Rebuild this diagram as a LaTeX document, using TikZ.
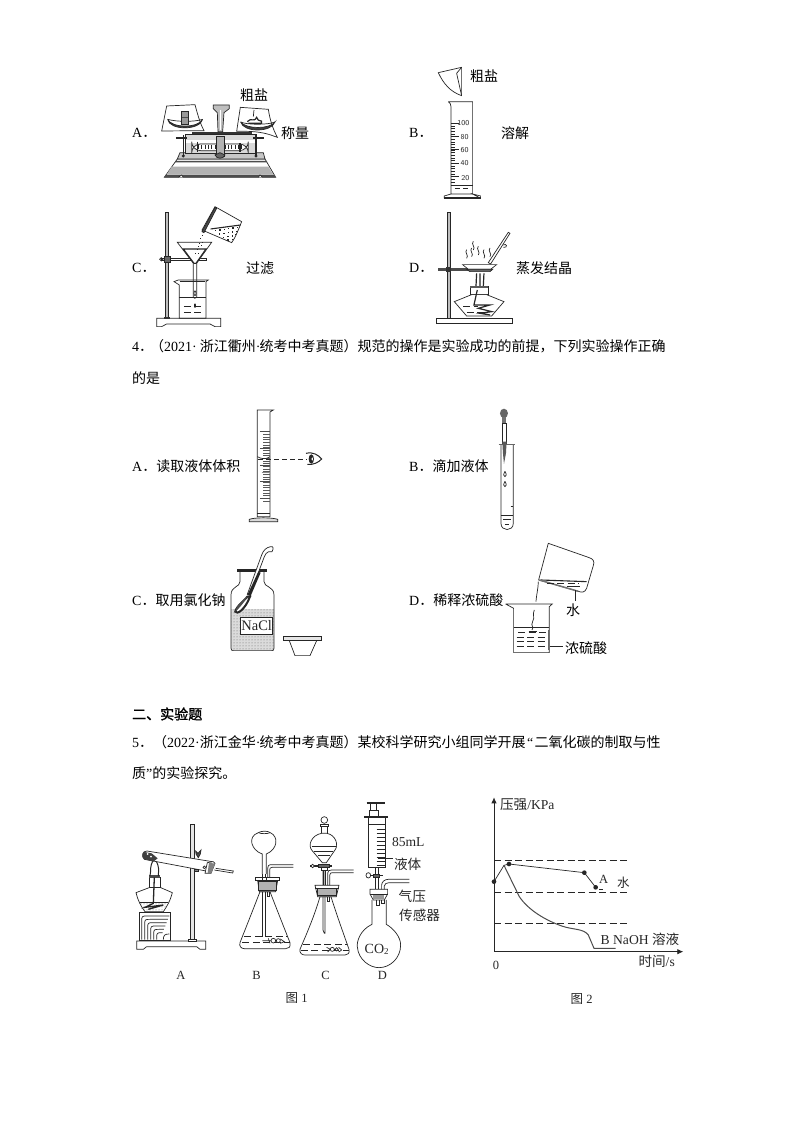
\documentclass[tikz,border=0pt]{standalone}
\usepackage{fontspec}
\setmainfont{Liberation Serif}
\newfontfamily\cjk{Noto Sans CJK SC}
\usetikzlibrary{patterns,arrows.meta}
\newcommand{\C}[1]{{\cjk #1}}
\newcommand{\vap}[2]{\draw (#1,#2) .. controls +(8,-8) and +(-8,8) .. +(0,-26);}
\newcommand{\dashrow}[3]{\draw[dash pattern=on 7pt off 3.5pt] (#1,#3) -- (#2,#3);}
\tikzset{
  tx/.style={anchor=west,inner sep=0pt,font=\fontsize{14}{14}\selectfont},
  txc/.style={anchor=center,inner sep=0pt,font=\fontsize{14}{14}\selectfont},
  small/.style={anchor=center,inner sep=0pt,font=\fontsize{12.5}{13}\selectfont},
  lbl/.style={anchor=center,inner sep=0pt,font=\fontsize{13.6}{14}\selectfont},
  tiny/.style={anchor=center,inner sep=0pt,font=\sffamily\fontsize{7.5}{8}\selectfont},
  zoomA/.style={shift={(120pt,-60pt)},x=0.3333pt,y=-0.3333pt,line width=0.7pt,black!85},
  zoomB/.style={shift={(120pt,-400pt)},x=0.3333pt,y=-0.3333pt,line width=0.7pt,black!85},
  zoomC/.style={shift={(125pt,-790pt)},x=0.3333pt,y=-0.3333pt,line width=0.7pt,black!85},
  zoomD/.style={shift={(470pt,-790pt)},x=0.3333pt,y=-0.3333pt,line width=0.7pt,black!85},
  stip/.style={pattern=dots,pattern color=black!60}
}
\begin{document}
\begin{tikzpicture}[x=1pt,y=-1pt]
\useasboundingbox (0,0) rectangle (794,1123);
\fill[white] (0,0) rectangle (794,1123);
% ---------- Texts
\node[tx] (ta1) at (132,133) {A\C{．}};
\node[txc] (ta2) at (254,95) {\C{粗盐}};
\node[tx] (ta3) at (281,133) {\C{称量}};
\node[tx] (tb1) at (409,133) {B\C{．}};
\node[tx] (tb2) at (470,76) {\C{粗盐}};
\node[tx] (tb3) at (501,133) {\C{溶解}};
\node[tx] (tc1) at (132,268) {C\C{．}};
\node[tx] (tc2) at (246,268) {\C{过滤}};
\node[tx] (td1) at (409,268) {D\C{．}};
\node[tx] (td2) at (516,268) {\C{蒸发结晶}};
\node[tx] (l1) at (132,346) {4\C{．}\hspace{-3pt}\C{（}2021·\hspace{3pt}\C{浙江衢州}·\hspace{-1pt}\C{统考中考真题）规范的操作是实验成功的前提，下列实验操作正确}};
\node[tx] (l2) at (132,378) {\C{的是}};
\node[tx] (oa) at (132,466) {A\C{．读取液体体积}};
\node[tx] (ob) at (409,466) {B\C{．滴加液体}};
\node[tx] (oc) at (132,600) {C\C{．取用氯化钠}};
\node[tx] (od) at (409,600) {D\C{．稀释浓硫酸}};
\node[tx] (h2) at (132,714) {\C{\addfontfeature{FakeBold=1.5}二、实验题}};
\node[tx] (l3) at (132,742) {5\C{．}\C{（}2022·\hspace{0pt}\C{浙江金华}·\hspace{-1pt}\C{统考中考真题）某校科学研究小组同学开展}\hspace{1.5pt}“\hspace{1.5pt}\C{二氧化碳的制取与性}};
\node[tx] (l4) at (132,773) {\C{质}”\C{的实验探究。}};
\node[txc] (w1) at (573,610) {\C{水}};
\node[txc] (w2) at (586,648) {\C{浓硫酸}};
% ---------- Top panels
\begin{scope}[zoomA]
 % balance base
 \draw[fill=white] (133,352) -- (172,297) -- (435,297) -- (467,352) -- cycle;
 \fill[black!30] (155,320) -- (445,320) -- (460,344) -- (140,344) -- cycle;
 \fill[black!70] (136,345) -- (464,345) -- (467,352) -- (133,352) -- cycle;
 \fill[black!70] (168,303) -- (440,303) -- (442,307) -- (165,307) -- cycle;
 \draw[fill=white] (175,352) -- (185,345) -- (190,352) (415,352) -- (420,345) -- (428,352);
 \draw[fill=black!22] (180,278) -- (430,278) -- (435,297) -- (172,297) -- cycle;
 \draw[fill=black!15] (197,222) rectangle (410,280);
 \fill[white] (198,241) rectangle (409,250);
 \draw[fill=white,rounded corners=9pt] (215,252) rectangle (385,272);
 \foreach \i in {235,245,...,365} \draw (\i,255) -- (\i,266);
 \draw[line width=1.1pt] (232,245) -- (232,275) (360,250) -- (360,275);
 \draw[fill=black!30] (288,228) rectangle (312,290);
 \draw[fill=black!60] (285,285) .. controls (290,298) and (310,298) .. (315,285) -- (300,278) -- cycle;
 \draw[line width=1.3pt] (190,225) -- (190,288) (408,225) -- (408,288);
 \fill (190,288) circle (5) (408,288) circle (5);
 \draw[line width=1.1pt] (168,234) -- (200,234) (400,234) -- (432,234);
 \fill[black!80] (215,216) rectangle (395,222);
 % pointer column
 \draw[fill=black!25] (280,135) -- (328,135) -- (328,146) -- (312,158) -- (308,215) -- (294,215) -- (292,158) -- (280,146) -- cycle;
 \draw[white,line width=0.8pt] (301,150) -- (301,210);
 % left paper/pan
 \draw[fill=white] (140,138) -- (225,134) .. controls (232,160) and (240,190) .. (252,212) -- (125,213) -- cycle;
 \draw (143,178) .. controls (170,186) and (225,186) .. (248,178);
 \draw[fill=black!75] (143,178) .. controls (148,212) and (240,212) .. (248,178) .. controls (235,205) and (155,205) .. (143,178);
 \draw[fill=black!40] (185,155) rectangle (204,192);
 \fill[black!70] (185,170) rectangle (204,174);
 % right paper/pan
 \draw[fill=white] (361,142) -- (445,148) .. controls (450,180) and (458,205) .. (472,232) .. controls (450,225) and (430,212) .. (350,214) -- cycle;
 \draw (362,186) .. controls (380,195) and (445,195) .. (465,186);
 \draw[fill=black!75] (362,186) .. controls (370,218) and (455,218) .. (465,186) .. controls (450,208) and (378,208) .. (362,186);
 \draw[line width=1.2pt] (382,185) .. controls (395,170) and (400,190) .. (410,172) .. controls (415,190) and (428,175) .. (425,190) -- (385,190);
 \draw (402,150) -- (400,170);
 % B paper and cylinder
 \draw[fill=white] (955,38) -- (1025,22) -- (1025,107) .. controls (990,95) and (970,70) .. cycle;
 \draw (1025,22) -- (1010,40) -- (1025,107);
 \draw (985,125) -- (1058,125) -- (1058,402) -- (993,402) -- (993,140) .. controls (993,132) and (990,128) .. (985,125);
 \draw (973,415) -- (973,408) -- (993,402) (1058,402) -- (1082,408) -- (1082,415) -- cycle;
 \draw[fill=black!60] (973,411) rectangle (1082,415);
 \draw (993,375) -- (1058,375);
 \draw (1005,384) -- (1020,384) (1030,384) -- (1045,384);
 \foreach \i in {190,198,...,366} \draw (993,\i) -- (1006,\i);
 \foreach \i in {190,230,270,310,350} \draw[line width=1pt] (993,\i) -- (1018,\i);
 \node[tiny] (n100) at (1030,190) {100};
 \node[tiny] (n80) at (1034,230) {80};
 \node[tiny] (n60) at (1034,270) {60};
 \node[tiny] (n40) at (1034,310) {40};
 \node[tiny] (n20) at (1036,355) {20};
 % C stand and filter
 \draw[fill=white] (110,800) -- (110,775) -- (302,775) -- (302,800) -- (285,800) -- (270,792) -- (140,792) -- (125,800) -- cycle;
 \draw[fill=black!25] (137,458) rectangle (146,775);
 \fill[black!80] (132,770) rectangle (150,776);
 \draw[fill=white] (125,594) -- (258,594) -- (258,602) -- (125,602) -- cycle;
 \draw (124,598) circle (5);
 \draw[fill=black!60] (132,590) rectangle (152,606);
 \draw[fill=white] (172,547) -- (275,547) -- (230,610) -- (230,712) .. controls (226,716) and (222,716) .. (220,712) -- (220,610) -- cycle;
 \draw[line width=1.1pt] (190,567) -- (258,567) -- (228,610) -- (222,610) -- cycle;
 \draw (175,660) -- (265,660) -- (258,665) -- (258,775) -- (178,775) -- (178,675) -- (162,665) -- (175,660);
 \draw[line width=1.4pt] (180,664) -- (255,664);
 \draw (178,712) -- (258,712);
 \dashrow{192}{245}{740}
 \dashrow{192}{245}{758}
 \fill (225,737) ellipse (3 and 7);
 \draw (225,700) ellipse (3 and 7);
 % pouring beaker
 \draw[fill=white] (285,440) -- (365,485) .. controls (355,510) and (345,535) .. (335,548) -- (246,510) -- cycle;
 \draw[line width=1.1pt] (272,507) -- (362,495);
 \foreach \p/\q in {285/510,298/508,311/506,324/504,337/502,350/500,297/520,310/518,323/516,336/514,349/512,309/530,322/528,335/526,345/522,322/538,335/536}
   \fill (\p,\q) rectangle +(4,4);
 \draw[fill=black!70] (285,442) -- (290,445) -- (252,518) -- (246,515) -- cycle;
 \foreach \p/\q in {245/525,240/535,238/548,235/558,230/568,242/556,233/578,225/580,245/545}
   \fill (\p,\q) rectangle +(3,3);
 % D stand
 \draw[fill=white] (950,790) rectangle (1178,775);
 \draw[fill=black!25] (983,458) rectangle (990,775);
 \fill[black!70] (955,624) rectangle (1045,632);
 \fill[black!80] (978,620) rectangle (992,637);
 % vapours
 \vap{1040}{595}\vap{1055}{590}\vap{1075}{585}\vap{1092}{595}\vap{1060}{570}\vap{1110}{590}
 % dish
 \draw[fill=white] (1028,614) -- (1130,614) -- (1112,628) -- (1045,628) -- cycle;
 \draw[fill=black!60] (1040,628) -- (1118,628) -- (1110,635) -- (1050,635) -- cycle;
 % glass rod
 \draw[fill=white] (1105,608) -- (1165,517) -- (1170,520) -- (1112,612) -- cycle;
 \draw (1150,555) .. controls (1160,548) and (1165,565) .. (1150,562);
 % tripod and wick
 \draw[line width=1.2pt] (1070,640) -- (1068,680) (1080,640) -- (1080,680) (1092,640) -- (1090,680);
 % lamp
 \draw[fill=white] (1050,678) rectangle (1105,704);
 \fill[black!65] (1050,678) rectangle (1105,684);
 \draw[fill=white] (1003,725) -- (1055,704) -- (1100,704) -- (1152,725) -- (1115,768) -- (1040,768) -- cycle;
 \dashrow{1030}{1075}{740}
 \dashrow{1040}{1100}{758}
 \draw[line width=1.2pt] (1072,690) -- (1062,735) -- (1110,735) -- (1075,745) -- (1115,755) -- (1080,760) -- (1110,765);
\end{scope}
% ---------- Middle panels
\begin{scope}[zoomB]
 % cylinder
 \draw (412,30) -- (460,30) -- (450,36) -- (450,350) -- (412,350) -- cycle;
 \draw[fill=black!15] (388,358) .. controls (405,352) and (455,352) .. (473,358) -- (473,365) -- (388,365) -- cycle;
 \draw (412,340) -- (450,340);
 \foreach \i in {95,103,...,305} \draw[black!65] (430,\i) -- (450,\i);
 \foreach \i in {95,145,195,245,295} \draw[black!70] (420,\i) -- (450,\i);
 \draw[line width=1.4pt,black!45] (425,218) -- (450,218);
 \draw (412,170) .. controls (425,178) and (440,178) .. (450,170);
 \draw[dash pattern=on 5pt off 3pt] (415,178) -- (560,178);
 % eye
 \draw[line width=1pt] (558,160) .. controls (580,155) and (595,165) .. (605,177) .. controls (595,188) and (580,195) .. (562,193);
 \fill (574,177) ellipse (8 and 14);
 \fill[white] (577,177) ellipse (2.5 and 5);
 % dropper & test tube
 \draw (1143,133) -- (1143,370) .. controls (1143,395) and (1180,395) .. (1180,370) -- (1180,133);
 \draw[line width=1.1pt,black!60] (1136,133) -- (1186,133);
 \draw (1143,345) -- (1180,345);
 \draw (1150,358) -- (1172,358) (1155,372) -- (1168,372);
 \draw (1172,320) -- (1180,320);
 \fill[black!60] (1152,40) ellipse (12 and 14);
 \fill[black!55] (1146,52) rectangle (1158,70);
 \draw[fill=white] (1147,70) rectangle (1160,130);
 \fill[black!65] (1147,125) -- (1160,125) -- (1158,160) -- (1152,192) -- (1149,160) -- cycle;
 \draw[fill=white] (1155,214) .. controls (1150,222) and (1150,230) .. (1155,230) .. controls (1160,230) and (1160,222) .. (1155,214);
 \draw[fill=white] (1155,244) .. controls (1150,252) and (1150,260) .. (1155,260) .. controls (1160,260) and (1160,252) .. (1155,244);
 % bottle
 \fill[black!14] (334,628) rectangle (462,750);
 \fill[stip] (334,628) rectangle (462,750);
 \draw[line width=2.5pt] (352,511) -- (440,511);
 \draw (360,514) -- (360,545) .. controls (360,562) and (333,558) .. (333,585) -- (333,745) .. controls (333,750) and (336,752) .. (340,752) -- (455,752) .. controls (460,752) and (462,750) .. (462,745) -- (462,585) .. controls (462,558) and (432,562) .. (432,545) -- (432,514);
 \draw[fill=white] (362,652) rectangle (458,703);
 \node[anchor=center,inner sep=0pt,font=\fontsize{14.5}{15}\selectfont] (nacl) at (410,678) {NaCl};
 % spoon
 \draw[fill=white] (452,440) .. controls (460,438) and (462,445) .. (456,455) -- (446,455) .. controls (440,458) and (436,462) .. (433,470) -- (390,585) -- (382,583) -- (425,465) .. controls (430,450) and (440,442) .. (452,440);
 \fill[black!85] (415,515) -- (422,518) -- (392,588) -- (382,585) -- cycle;
 \draw[line width=2pt,fill=white] (382,590) .. controls (375,600) and (348,620) .. (346,635) .. controls (350,645) and (375,630) .. (390,590) -- cycle;
 \fill[black!70] (382,590) .. controls (370,600) and (345,620) .. (346,635) .. controls (352,630) and (370,612) .. (382,590);
 % inverted lid
 \draw[fill=black!10] (490,708) rectangle (605,722);
 \draw (508,722) -- (525,767) -- (570,767) -- (590,722);
 % pouring beaker
 \draw[fill=white] (1285,430) -- (1405,472) .. controls (1420,476) and (1425,485) .. (1420,497) -- (1400,565) .. controls (1395,578) and (1385,578) .. (1375,574) -- (1256,540) -- cycle;
 \draw[line width=1.1pt] (1262,540) -- (1400,545);
 \draw[line width=1.5pt,black!55] (1258,540) -- (1375,574);
 \dashrow{1280}{1375}{550}
 \draw (1340,560) -- (1380,560);
 \draw (1255,545) .. controls (1255,565) and (1250,580) .. (1248,605);
 % water label line
 \draw (1365,570) -- (1365,602);
 % lower beaker
 \draw (1157,612) -- (1297,612) -- (1288,620) -- (1288,758) -- (1181,758) -- (1181,625) -- (1157,612);
 \draw (1181,683) -- (1288,683);
 \draw[line width=1.5pt,black!60] (1285,690) -- (1285,750);
 \dashrow{1195}{1280}{698}
 \dashrow{1190}{1280}{712}
 \dashrow{1190}{1280}{725}
 \dashrow{1190}{1280}{740}
 \draw (1243,630) .. controls (1236,645) and (1246,650) .. (1238,665) .. controls (1230,680) and (1245,678) .. (1236,690);
 \draw (1226,695) -- (1250,695);
 % acid line
 \draw (1290,738) -- (1330,738);
\end{scope}
% ---------- Figure 1
\begin{scope}[zoomC]
 % A
 \draw[fill=white] (35,478) -- (35,453) -- (242,453) -- (242,478) -- (225,478) -- (215,470) -- (65,470) -- (55,478) -- cycle;
 \draw[fill=black!10] (197,103) -- (207,103) -- (207,448) -- (197,448) -- cycle;
 \draw[fill=white] (190,447) rectangle (215,453);
 % wood block
 \draw[fill=white] (42,368) rectangle (135,450);
 \foreach \i in {0,1,2,3,4,5} {
   \pgfmathsetmacro{\xa}{50+9*\i}
   \pgfmathsetmacro{\ya}{378+10*\i}
   \draw (\xa,449) -- (\xa,\ya+18) .. controls (\xa,\ya) and (\xa,\ya) .. (\xa+18,\ya) -- (133-4*\i,\ya);
 }
 \draw (115,449) .. controls (115,435) and (120,432) .. (133,432);
 % lamp
 \draw[fill=white] (33,308) -- (75,292) -- (105,292) -- (142,308) .. controls (135,335) and (125,350) .. (115,365) -- (60,365) .. controls (48,350) and (38,330) .. cycle;
 \draw[fill=white] (72,262) rectangle (105,292);
 \fill[black!70] (72,255) rectangle (105,265);
 \fill[stip] (46,338) -- (128,338) -- (115,363) -- (60,363) -- cycle;
 \draw (46,338) -- (128,338);
 \draw[line width=1.3pt] (88,262) -- (85,340) -- (60,352) -- (115,345) -- (70,358);
 % flame
 \draw[line width=1pt] (75,258) .. controls (80,240) and (70,235) .. (88,205);
 \draw[line width=1pt] (100,258) .. controls (100,240) and (105,235) .. (92,210);
 % tube
 \draw[fill=white] (66,183) -- (262,215) -- (254,245) -- (58,208) .. controls (48,200) and (52,182) .. (66,183);
 \fill[black!75] (58,186) .. controls (48,192) and (52,205) .. (60,208) -- (85,215) -- (98,205) -- (80,190) -- cycle;
 \fill[white] (68,192) circle (3) (78,200) circle (3);
 \draw[fill=white] (247,218) -- (265,215) -- (270,220) -- (258,250) -- (240,250) -- cycle;
 \fill[black!50] (252,218) -- (270,221) -- (259,250) -- (248,248) -- cycle;
 \draw (272,235) -- (325,243) -- (323,249) -- (268,240);
 \draw[fill=white] (238,232) circle (4);
 % clamp wing
 \draw[fill=black!70] (212,183) -- (219,190) -- (228,180) -- (226,192) -- (220,203) -- (213,192) -- cycle;
 \draw[fill=black!50] (207,237) rectangle (220,244);
 % B bulb funnel
 \draw (400,128) .. controls (365,140) and (380,182) .. (412,192) -- (412,252) (424,252) -- (424,192) .. controls (458,178) and (462,140) .. (436,128) .. controls (425,132) and (410,132) .. (400,128);
 \draw (400,128) .. controls (410,122) and (428,122) .. (436,128);
 \draw (413,252) -- (413,442) (421,252) -- (421,442);
 \draw[fill=white] (345,458) .. controls (350,445) and (380,370) .. (405,305) -- (435,305) .. controls (460,370) and (490,445) .. (495,458) .. controls (498,472) and (490,476) .. (482,476) -- (358,476) .. controls (348,476) and (342,468) .. (345,458) -- cycle;
 \draw (413,300) -- (413,442) (421,300) -- (421,442);
 \dashrow{358}{490}{440}
 \dashrow{352}{495}{458}
 \draw[fill=white] (398,272) -- (458,272) -- (452,305) -- (403,305) -- cycle;
 \draw[fill=white] (392,262) rectangle (462,272);
 \draw (412,262) -- (412,272) (424,262) -- (424,272);
 \draw[fill=black!30] (400,275) rectangle (455,300);
 \draw (426,305) -- (426,318) -- (433,318) -- (433,305);
 \draw (428,262) -- (428,235) .. controls (428,228) and (430,224) .. (440,224) -- (505,224) (434,262) -- (434,240) .. controls (434,235) and (436,232) .. (442,232) -- (505,232);
 \draw[fill=white] (445,452) circle (7) (460,452) circle (6);
 \draw (412,452) -- (438,452) (430,445) -- (435,460);
 \draw (466,447) -- (478,455) -- (466,460);
 % C funnel
 \draw[fill=white] (598,90) circle (10);
 \draw[fill=white] (586,102) rectangle (610,108);
 \draw (590,108) -- (590,130) (606,108) -- (606,130);
 \draw[fill=white] (590,130) .. controls (560,135) and (548,165) .. (560,180) -- (592,218) -- (604,218) -- (630,180) .. controls (642,165) and (632,135) .. (606,130) -- cycle;
 \draw (560,170) -- (632,170);
 \draw (568,184) -- (625,184) (578,195) -- (615,195);
 \draw[fill=white] (590,222) rectangle (606,240);
 \draw[line width=1.2pt] (556,228) -- (622,228);
 \draw[fill=white] (563,228) circle (5);
 \draw[fill=black!60] (580,223) rectangle (612,233);
 \draw (594,240) -- (594,420) -- (598,430) -- (600,430) -- (600,240);
 \draw[fill=white] (525,478) .. controls (530,465) and (565,390) .. (585,320) -- (618,320) .. controls (640,390) and (668,465) .. (672,478) .. controls (675,490) and (668,495) .. (660,495) -- (540,495) .. controls (530,495) and (523,488) .. (525,478) -- cycle;
 \draw (594,320) -- (594,420) -- (598,430) -- (600,430) -- (600,320);
 \dashrow{535}{665}{462}
 \dashrow{528}{672}{482}
 \draw[fill=white] (570,286) -- (642,286) -- (640,294) -- (634,320) -- (578,320) -- (572,294) -- cycle;
 \draw[fill=black!30] (578,294) rectangle (634,316);
 \draw (570,294) -- (642,294);
 \draw (606,320) -- (606,333) -- (612,333) -- (612,320);
 \draw (594,240) -- (594,286) (600,240) -- (600,286);
 \draw (608,286) -- (608,250) .. controls (608,242) and (612,240) .. (620,240) -- (686,240) (614,286) -- (614,256) .. controls (614,250) and (618,248) .. (622,248) -- (686,248);
 \draw[fill=white] (622,478) circle (6) (635,478) circle (5);
 \draw (605,472) -- (616,478) -- (608,486) (641,472) -- (650,480) -- (641,486);
 % D syringe
 \draw[line width=2.2pt] (725,38) -- (780,38);
 \draw[fill=white] (735,40) rectangle (755,60);
 \draw (732,60) rectangle (760,78);
 \draw[line width=2.2pt] (718,81) -- (788,81);
 \draw (730,83) -- (730,232) -- (780,232) -- (780,83);
 \draw (730,102) -- (780,102);
 \foreach \i in {118,130,...,226} \draw (755,\i) -- (780,\i);
 \draw (750,232) -- (750,296) (760,232) -- (760,296);
 \draw[line width=1.2pt] (722,256) -- (775,256);
 \draw[fill=white] (730,256) ellipse (7 and 8);
 \draw[fill=black!60] (745,252) rectangle (764,261);
 \draw (760,205) -- (805,205);
 % D flask
 \draw[fill=white] (741,330) -- (741,403) .. controls (705,420) and (695,455) .. (697,470) .. controls (700,510) and (735,533) .. (762,533) .. controls (795,533) and (827,505) .. (827,465) .. controls (827,440) and (805,415) .. (784,403) -- (784,330);
 \draw[fill=white] (735,298) -- (788,298) -- (788,312) -- (778,330) -- (745,330) -- (735,312) -- cycle;
 \draw (735,312) -- (788,312);
 \fill[black!40] (745,314) rectangle (778,328);
 \draw (755,330) -- (755,345) -- (762,345) -- (762,330) (770,330) -- (770,340) -- (777,340) -- (777,330);
 \draw (770,298) -- (770,285) .. controls (770,275) and (780,268) .. (790,268) -- (853,268) (778,298) -- (778,288) .. controls (778,282) and (785,278) .. (792,278) -- (853,278);
 \node[anchor=center,inner sep=0pt,font=\fontsize{14}{14}\selectfont] (co2) at (755,478) {CO\raisebox{-0.25ex}{\fontsize{9}{9}\selectfont 2}};
 \node[lbl] (ml) at (850,155) {85mL};
 \node[lbl] (lq) at (848,222) {\C{液体}};
 \node[lbl] (s1) at (862,318) {\C{气压}};
 \node[lbl] (s2) at (884,375) {\C{传感器}};
 \node[small] (la) at (168,555) {A};
 \node[small] (lb) at (395,555) {B};
 \node[small] (lc) at (602,555) {C};
 \node[small] (ld) at (772,555) {D};
 \node[small] (f1) at (515,625) {\C{图} 1};
\end{scope}
% ---------- Figure 2
\begin{scope}[zoomD]
 \coordinate (o) at (72,485);
 \coordinate (yt) at (72,22);
 \coordinate (xt) at (640,485);
 \draw[-{Latex[length=6pt,width=5.5pt]},line width=0.8pt] (o) -- (yt);
 \draw[-{Latex[length=6pt,width=5.5pt]},line width=0.8pt] (o) -- (xt);
 \dashrow{72}{470}{212}
 \dashrow{72}{470}{307}
 \dashrow{72}{470}{399}
 \coordinate (p0) at (72,275);
 \coordinate (p1) at (117,222);
 \coordinate (p2) at (343,248);
 \coordinate (p3) at (377,292);
 \coordinate (pk) at (102,226);
 \draw (p0) -- (pk) -- (p1) -- (p2) -- (p3);
 \fill (p0) circle (7) (p1) circle (7) (p2) circle (7) (p3) circle (7);
 \draw (387,298) -- (400,298);
 \draw[line width=1pt,black!70] (pk) -- (148,320) .. controls (175,360) and (225,390) .. (275,408) .. controls (310,420) and (340,415) .. (355,435) -- (372,475) -- (437,475);
 \node[lbl] (yl) at (172,45) {\C{压强}/KPa};
 \node[small] (aa) at (401,268) {A};
 \node[small] (wa) at (460,277) {\C{水}};
 \node[lbl] (bb) at (510,448) {B NaOH \C{溶液}};
 \node[lbl] (xl) at (560,515) {\C{时间}/s};
 \node[small] (zz) at (78,525) {0};
 \node[small] (f2) at (335,628) {\C{图} 2};
\end{scope}
\end{tikzpicture}
\end{document}
